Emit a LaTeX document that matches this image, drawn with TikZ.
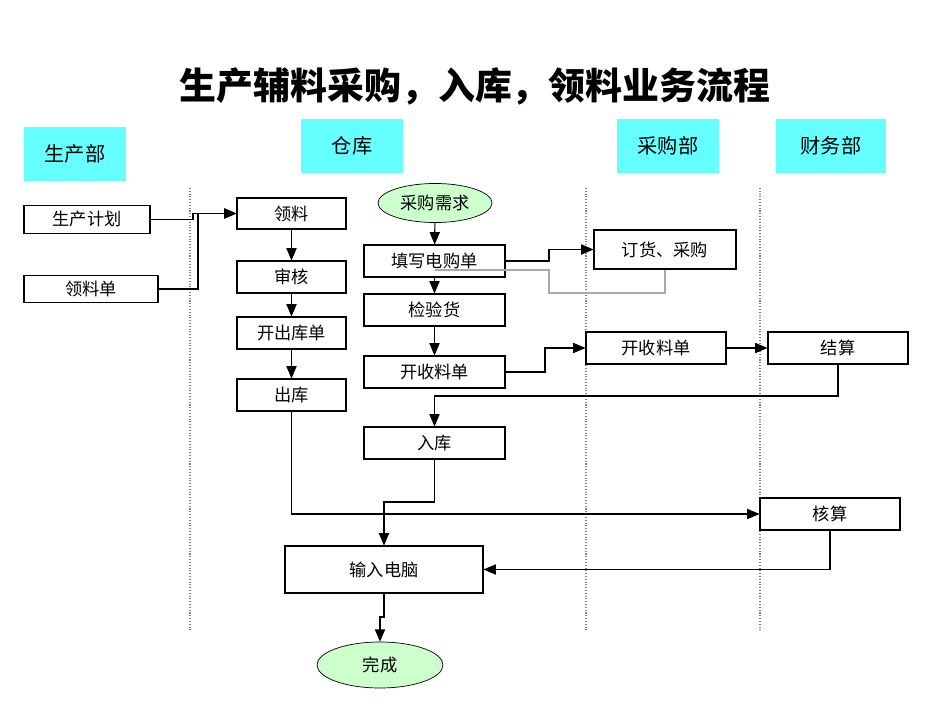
\documentclass[tikz,border=0pt]{standalone}
\usepackage{fontspec}
\setmainfont{Noto Sans CJK SC}
\usepackage{tikz}
\usetikzlibrary{arrows,shapes.geometric}
\definecolor{laneblue}{RGB}{102,255,255}
\definecolor{startgreen}{RGB}{204,255,204}
\definecolor{backline}{RGB}{170,170,170}

\begin{document}
\begin{tikzpicture}[x=0.02cm,y=-0.02cm,
  lane/.style={fill=laneblue,minimum width=2.04cm,minimum height=1.08cm,font=\fontsize{11.5}{12}\selectfont},
  box/.style={draw,semithick,minimum height=0.64cm,font=\fontsize{9.8}{11}\selectfont},
  term/.style={draw,ellipse,fill=startgreen,font=\fontsize{9.8}{11}\selectfont},
  arr/.style={-triangle 45,semithick},
  sep/.style={densely dotted,gray,semithick}]
\useasboundingbox (0,0) rectangle (950,713);
\node[font=\bfseries\fontsize{21}{24}\selectfont] (title) at (475,86) {生产辅料采购，入库，领料业务流程};
% lanes
\node[lane] (prod) at (75,154) {生产部};
\node[lane] (store) at (352,146) {仓库};
\node[lane] (buy) at (668,146) {采购部};
\node[lane,minimum width=2.2cm] (fin) at (831,146) {财务部};
\draw[sep] (190,188) -- (190,632);
\draw[sep] (586,188) -- (586,632);
\draw[sep] (760,188) -- (760,632);
% production
\node[box,minimum width=2.52cm,minimum height=0.54cm] (plan) at (87,219.5) {生产计划};
\node[box,minimum width=2.68cm,minimum height=0.48cm] (req) at (91,289) {领料单};
% warehouse, left column
\node[box,minimum width=2.18cm,minimum height=0.62cm] (pick) at (291.5,213.5) {领料};
\node[box,minimum width=2.18cm] (check) at (291.5,277) {审核};
\node[box,minimum width=2.18cm] (outslip) at (291.5,333) {开出库单};
\node[box,minimum width=2.18cm] (out) at (291.5,395) {出库};
% warehouse, right column
\node[term,minimum width=2.2cm,minimum height=0.72cm] (need) at (435,203) {采购需求};
\node[box,minimum width=2.82cm] (form) at (434.5,261) {填写电购单};
\node[box,minimum width=2.82cm] (inspect) at (434.5,310) {检验货};
\node[box,minimum width=2.82cm] (recv) at (434.5,372) {开收料单};
\node[box,minimum width=2.82cm] (instore) at (434.5,443) {入库};
\node[box,minimum width=3.96cm,minimum height=0.94cm] (pc) at (384,569.5) {输入电脑};
\node[term,minimum width=2.52cm,minimum height=0.92cm] (done) at (380,665) {完成};
% purchasing and finance
\node[box,minimum width=2.84cm,minimum height=0.78cm] (order) at (665,249.5) {订货、采购};
\node[box,minimum width=2.8cm] (recv2) at (656,348) {开收料单};
\node[box,minimum width=2.8cm] (settle) at (838,348) {结算};
\node[box,minimum width=2.8cm] (acct) at (830,514) {核算};
% connectors
\draw[backline,semithick] (order.south) -- (665,293) -- (549,293) -- (549,270) -- (434.5,270);
\draw[arr] (plan.east) -- (193,219.5) |- (pick.west);
\draw[arr] (req.east) -| (198,213.5) -- (pick.west);
\draw[arr] (pick) -- (check);
\draw[arr] (check) -- (outslip);
\draw[arr] (outslip) -- (out);
\draw[arr] (need) -- (form);
\draw[arr] (form) -- (inspect);
\draw[arr] (inspect) -- (recv);
\draw[arr] (form.east) -- (549,261) |- (order.west);
\draw[arr] (recv.east) -- (545,372) |- (recv2.west);
\draw[arr] (recv2) -- (settle);
\draw[arr] (settle.south) |- (434.5,396) -- (instore.north);
\draw[arr] (instore.south) |- (384,502) -- (pc.north);
\draw[arr] (out.south) |- (acct.west);
\draw[arr] (acct.south) |- (pc.east);
\draw[arr] (pc.south) |- (380,617) -- (done.north);
\end{tikzpicture}
\end{document}
